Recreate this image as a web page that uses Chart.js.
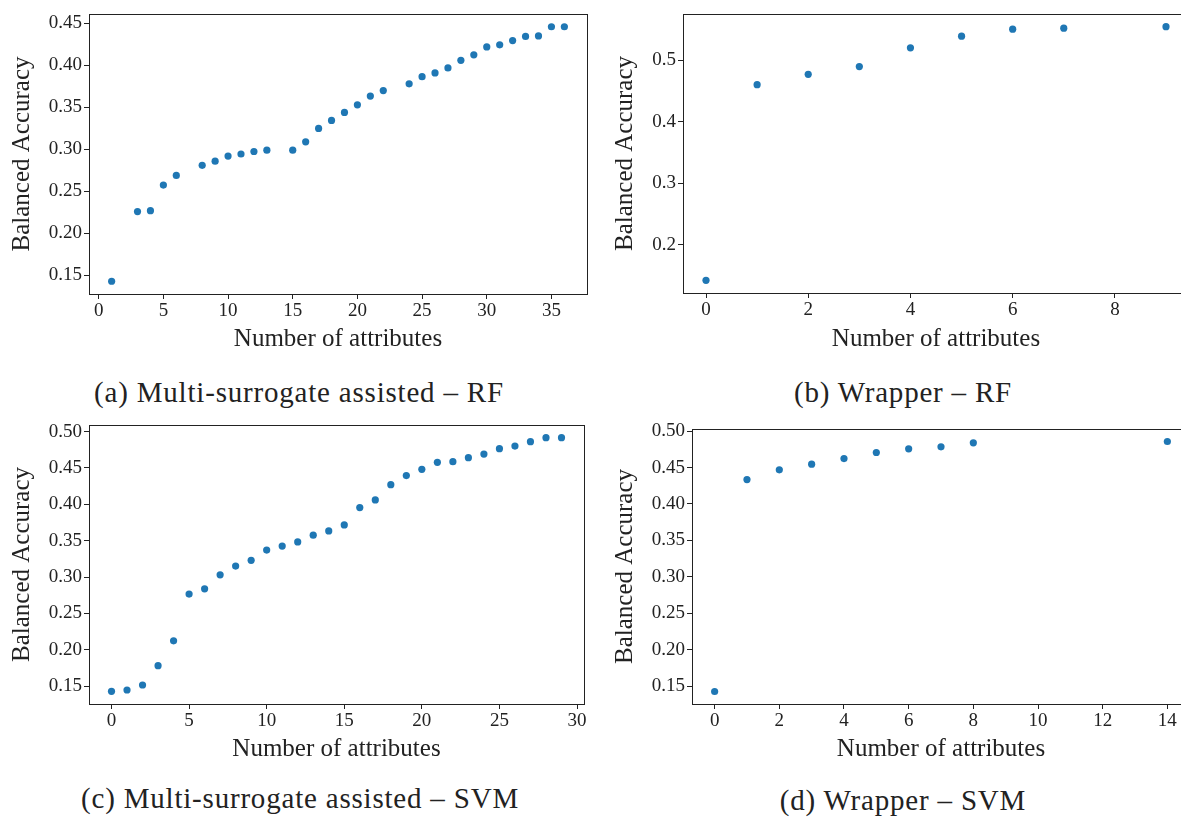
<!DOCTYPE html>
<html>
<head>
<meta charset="utf-8">
<script src="https://cdn.jsdelivr.net/npm/chart.js@4.4.1/dist/chart.umd.min.js"></script>
<style>
  html, body { margin: 0; padding: 0; background: #fff; overflow: hidden; width: 1181px; height: 818px; }
  canvas { position: absolute; }
  .cap { position: absolute; font-family: "Liberation Serif", serif; font-size: 29px; letter-spacing: 0.8px; color: #222;
         transform: translate(-50%, -50%); white-space: nowrap; }
</style>
</head>
<body>
<canvas id="ca" width="600" height="354" style="left:0;top:0"></canvas>
<canvas id="cb" width="600" height="354" style="left:600px;top:0"></canvas>
<canvas id="cc" width="600" height="354" style="left:0;top:410px"></canvas>
<canvas id="cd" width="600" height="354" style="left:600px;top:410px"></canvas>
<div class="cap" style="left:299px;top:392px">(a) Multi-surrogate assisted – RF</div>
<div class="cap" style="left:903px;top:392px">(b) Wrapper – RF</div>
<div class="cap" style="left:300px;top:798px">(c) Multi-surrogate assisted – SVM</div>
<div class="cap" style="left:903px;top:800px">(d) Wrapper – SVM</div>
<script>
// (a) multi-surrogate assisted, RF
const aX = [1, 3, 4, 5, 6, 8, 9, 10, 11, 12, 13, 15, 16, 17, 18, 19, 20, 21, 22, 24, 25, 26, 27, 28, 29, 30, 31, 32, 33, 34, 35, 36];
const aY = [0.143, 0.226, 0.227, 0.2575, 0.269, 0.281, 0.286, 0.292, 0.2945, 0.2975, 0.299, 0.299, 0.309, 0.325, 0.3345, 0.344,
            0.353, 0.3635, 0.370, 0.378, 0.3865, 0.391, 0.397, 0.406, 0.4125, 0.422, 0.4245, 0.4295, 0.4345, 0.435, 0.446, 0.446];
const aXTicks = [0, 5, 10, 15, 20, 25, 30, 35];
const aYTicks = [0.15, 0.20, 0.25, 0.30, 0.35, 0.40, 0.45];

// (b) wrapper, RF
const bX = [0, 1, 2, 3, 4, 5, 6, 7, 9];
const bY = [0.142, 0.4605, 0.4775, 0.490, 0.5205, 0.5395, 0.551, 0.5525, 0.555];
const bXTicks = [0, 2, 4, 6, 8];
const bYTicks = [0.2, 0.3, 0.4, 0.5];

// (c) multi-surrogate assisted, SVM
const cX = [0, 1, 2, 3, 4, 5, 6, 7, 8, 9, 10, 11, 12, 13, 14, 15, 16, 17, 18, 19, 20, 21, 22, 23, 24, 25, 26, 27, 28, 29];
const cY = [0.1427, 0.1445, 0.1514, 0.178, 0.2122, 0.2765, 0.2837, 0.303, 0.315, 0.323, 0.337, 0.3425, 0.3483, 0.3575, 0.3634,
            0.3716, 0.3955, 0.406, 0.427, 0.4395, 0.4482, 0.4578, 0.4587, 0.4642, 0.4692, 0.4766, 0.4802, 0.4862, 0.4917, 0.4917];
const cXTicks = [0, 5, 10, 15, 20, 25, 30];
const cYTicks = [0.15, 0.20, 0.25, 0.30, 0.35, 0.40, 0.45, 0.50];

// (d) wrapper, SVM
const dX = [0, 1, 2, 3, 4, 5, 6, 7, 8, 14];
const dY = [0.1427, 0.4335, 0.4468, 0.4546, 0.4623, 0.4706, 0.4756, 0.4784, 0.4839, 0.4857];
const dXTicks = [0, 2, 4, 6, 8, 10, 12, 14];
const dYTicks = [0.15, 0.20, 0.25, 0.30, 0.35, 0.40, 0.45, 0.50];

const FONT = '"Liberation Serif", serif';
const INK = '#222';

// full box around the plot area, like matplotlib spines
const boxPlugin = {
  id: 'box',
  afterDraw(chart) {
    const a = chart.chartArea;
    const ctx = chart.ctx;
    ctx.save();
    ctx.strokeStyle = INK;
    ctx.lineWidth = 1;
    ctx.strokeRect(Math.round(a.left) + 0.5, Math.round(a.top) + 0.5,
                   Math.round(a.right - a.left), Math.round(a.bottom - a.top));
    ctx.restore();
  }
};

// 5% margins like matplotlib autoscale
function padRange(vals) {
  const lo = Math.min(...vals), hi = Math.max(...vals);
  const p = (hi - lo) * 0.05;
  return [lo - p, hi + p];
}

function makeChart(id, xs, ys, xTicks, yTicks, yDigits, g) {
  const [xmin, xmax] = padRange(xs);
  const [ymin, ymax] = padRange(ys);
  const pts = xs.map((x, i) => ({ x: x, y: ys[i] }));

  return new Chart(document.getElementById(id), {
    type: 'scatter',
    data: {
      datasets: [{
        data: pts,
        backgroundColor: '#1f77b4',
        borderWidth: 0,
        pointRadius: 3.6,
        pointHoverRadius: 3.6
      }]
    },
    options: {
      responsive: false,
      animation: false,
      events: [],
      layout: { padding: { top: g.top, right: g.right, left: 0, bottom: 0 } },
      plugins: { legend: { display: false }, tooltip: { enabled: false } },
      scales: {
        x: {
          type: 'linear',
          min: xmin,
          max: xmax,
          afterBuildTicks: s => { s.ticks = xTicks.map(v => ({ value: v })); },
          afterFit: s => { s.height = g.xh; },
          grid: { drawOnChartArea: false, drawTicks: true, tickLength: 5, tickColor: INK },
          border: { display: false },
          ticks: { font: { family: FONT, size: 19 }, color: INK, padding: 1, maxRotation: 0,
                   callback: v => String(v) },
          title: { display: true, text: 'Number of attributes', font: { family: FONT, size: 25 },
                   color: INK, padding: { top: 0, bottom: 0 } }
        },
        y: {
          type: 'linear',
          min: ymin,
          max: ymax,
          afterBuildTicks: s => { s.ticks = yTicks.map(v => ({ value: v })); },
          afterFit: s => { s.width = g.yw; },
          grid: { drawOnChartArea: false, drawTicks: true, tickLength: 5, tickColor: INK },
          border: { display: false },
          ticks: { font: { family: FONT, size: 19 }, color: INK, padding: 2,
                   callback: v => v.toFixed(yDigits) },
          title: { display: true, text: 'Balanced Accuracy', font: { family: FONT, size: 25 },
                   color: INK, padding: { top: g.tp, bottom: 0 } }
        }
      }
    },
    plugins: [boxPlugin]
  });
}

makeChart('ca', aX, aY, aXTicks, aYTicks, 2, { top: 14, right: 13, yw: 89, xh: 60, tp: 7 });
makeChart('cb', bX, bY, bXTicks, bYTicks, 1, { top: 14, right: 11, yw: 83, xh: 61, tp: 10 });
makeChart('cc', cX, cY, cXTicks, cYTicks, 2, { top: 15, right: 16, yw: 89, xh: 60, tp: 7 });
makeChart('cd', dX, dY, dXTicks, dYTicks, 2, { top: 19, right: 10, yw: 92, xh: 60, tp: 10 });
</script>
</body>
</html>
